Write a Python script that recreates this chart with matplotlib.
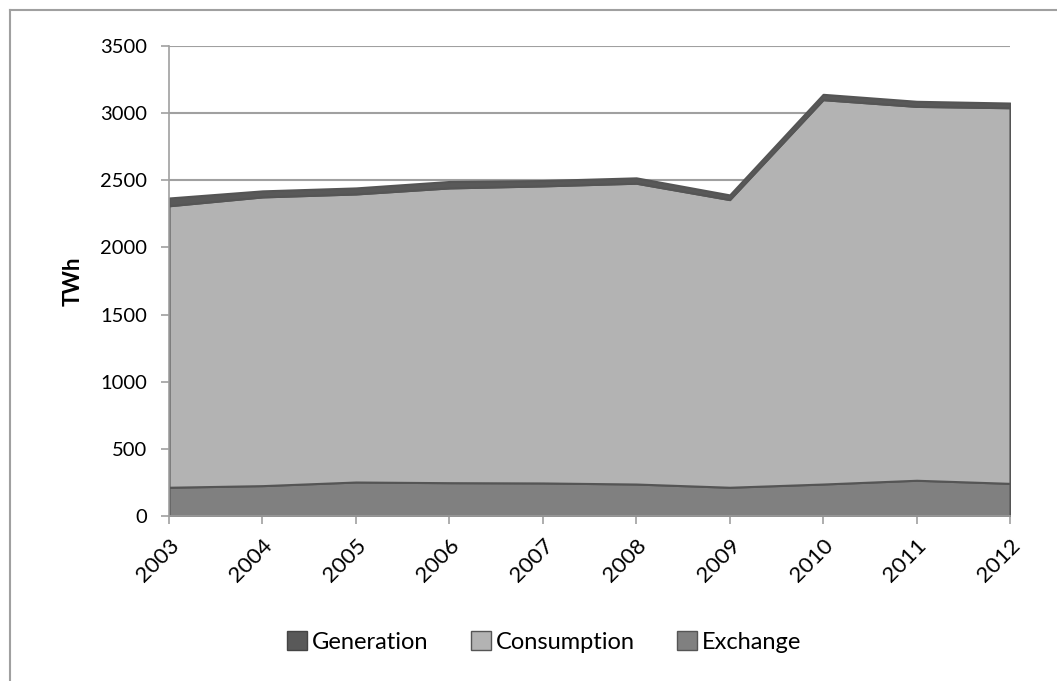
import matplotlib.pyplot as plt
import numpy as np
from matplotlib.lines import Line2D
from matplotlib.patches import Patch

plt.rcParams['font.family'] = ['Lato', 'DejaVu Sans']

# Datos (TWh)
anios = [2003, 2004, 2005, 2006, 2007, 2008, 2009, 2010, 2011, 2012]
exchange = [214, 226, 253, 248, 246, 238, 214, 238, 266, 243]
consumption = [2096, 2150, 2145, 2195, 2212, 2240, 2142, 2862, 2784, 2797]
generation = [58, 45, 45, 48, 40, 40, 35, 40, 38, 35]

fig = plt.figure(figsize=(10.57, 6.81), dpi=100)
ax = fig.add_axes([0.1599, 0.2423, 0.7956, 0.6902])

# Apilado: Exchange abajo, Consumption en medio, Generation arriba
stacks = ax.stackplot(anios, exchange, consumption, generation,
                      colors=['#808080', '#b3b3b3', '#595959'],
                      edgecolor='#555555', linewidth=1.5)

ax.set_xlim(2003, 2012)
ax.set_ylim(0, 3500)
ax.set_yticks(np.arange(0, 3501, 500))
ax.set_xticks(anios)
ax.set_xticklabels([str(a) for a in anios], rotation=45, ha='right',
                   rotation_mode='anchor')
ax.tick_params(axis='both', color='#a0a0a0', length=6, width=1.2)
ax.tick_params(axis='y', labelsize=14.5, pad=10)
ax.tick_params(axis='x', labelsize=16, pad=8)
ax.grid(axis='y', color='#a0a0a0', linewidth=1.5)
ax.set_axisbelow(True)
for lado in ['top', 'right']:
    ax.spines[lado].set_visible(False)
for lado in ['left', 'bottom']:
    ax.spines[lado].set_color('#a0a0a0')
    ax.spines[lado].set_linewidth(1.2)

ax.set_ylabel('TWh', fontsize=16, fontweight='bold', labelpad=12)

# Leyenda en el orden original
handles = [Patch(facecolor='#595959', edgecolor='#444444'),
           Patch(facecolor='#b3b3b3', edgecolor='#555555'),
           Patch(facecolor='#808080', edgecolor='#555555')]
fig.legend(handles, ['Generation', 'Consumption', 'Exchange'],
           loc='center', bbox_to_anchor=(0.515, 0.057), ncol=3, frameon=False,
           fontsize=17, handlelength=0.85, handleheight=0.85,
           handletextpad=0.2, columnspacing=1.8)

# Marco exterior (solo izquierda y arriba visibles)
fig.add_artist(Line2D([0.0095, 0.0095], [0, 0.985], transform=fig.transFigure,
                      color='#a0a0a0', linewidth=1.5))
fig.add_artist(Line2D([0.0095, 1.0], [0.985, 0.985], transform=fig.transFigure,
                      color='#a0a0a0', linewidth=1.5))

fig.savefig('out.png', dpi=100)
